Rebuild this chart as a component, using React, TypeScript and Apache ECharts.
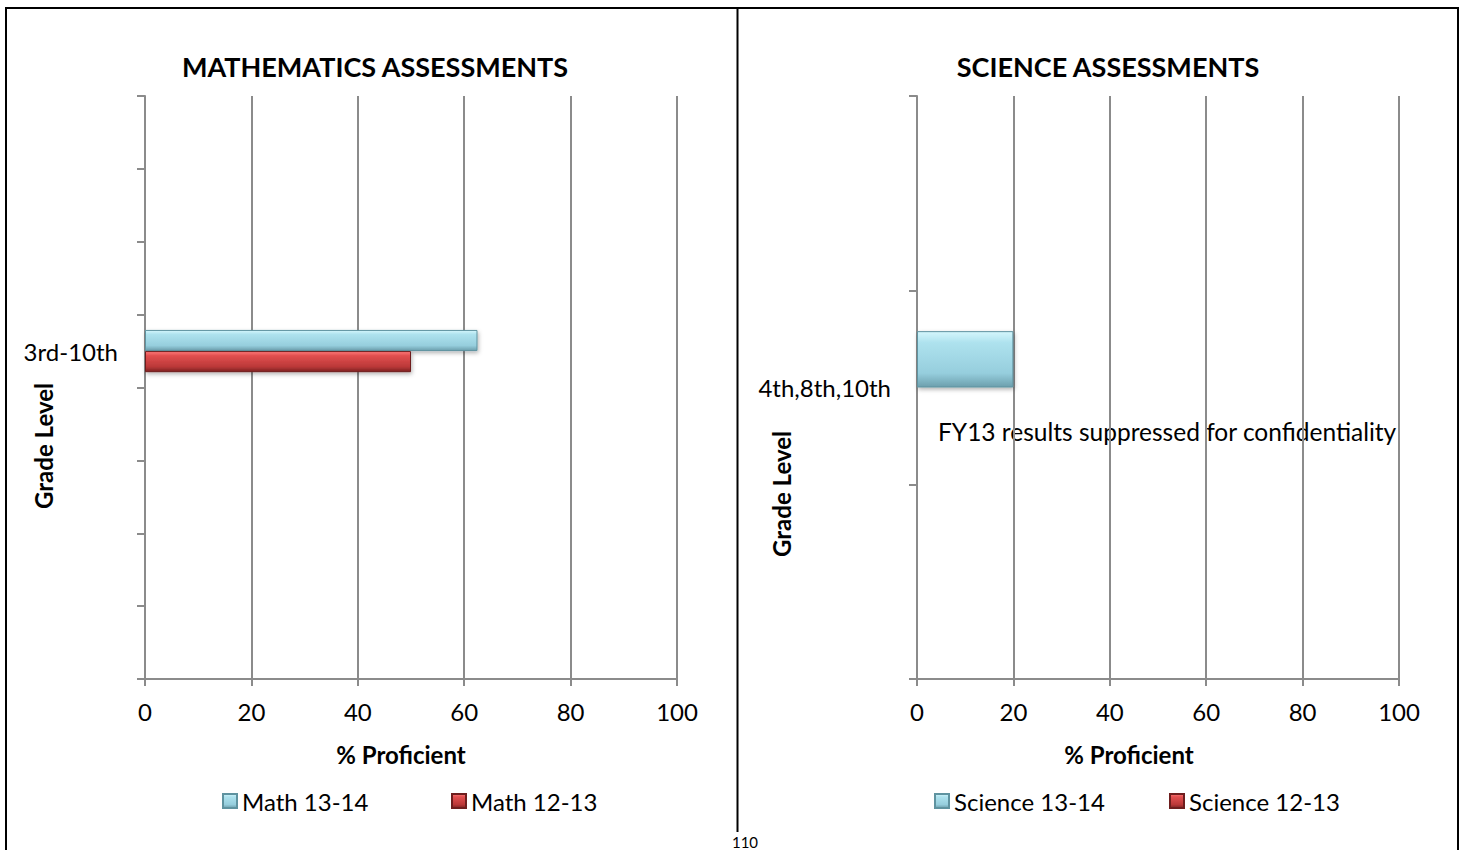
import React, { useEffect, useRef } from "react";
import * as echarts from "echarts";

const mathCategories = ["", " ", "  ", "   ", "3rd-10th", "    ", "     ", "      "];
const math1314 = [null, null, null, null, 62.5, null, null, null];
const math1213 = [null, null, null, null, 50, null, null, null];

const sciCategories = ["", "4th,8th,10th", " "];
const sci1314 = [null, 20, null];
const sci1213 = [null, null, null];

const xTicks = [0, 20, 40, 60, 80, 100];

const FONT = "Lato, 'Open Sans', sans-serif";
const GRID_COLOR = "#8b8b8b";

const blueGrad = () =>
  new echarts.graphic.LinearGradient(0, 0, 0, 1, [
    { offset: 0, color: "#d4f6fc" },
    { offset: 0.2, color: "#aee2ee" },
    { offset: 0.75, color: "#96cedd" },
    { offset: 1, color: "#6c9fad" },
  ]);
const redGrad = () =>
  new echarts.graphic.LinearGradient(0, 0, 0, 1, [
    { offset: 0, color: "#ff7a7a" },
    { offset: 0.2, color: "#e25050" },
    { offset: 0.75, color: "#bb3838" },
    { offset: 1, color: "#7e2323" },
  ]);

export default function App() {
  const ref = useRef<HTMLDivElement>(null);
  useEffect(() => {
    if (!ref.current) return;
    const chart = echarts.init(ref.current, null, { renderer: "svg" });

    const xAxisBase = (gridIndex: number) => ({
      type: "value",
      gridIndex,
      min: xTicks[0],
      max: xTicks[xTicks.length - 1],
      interval: xTicks[1] - xTicks[0],
      axisLine: { show: true, lineStyle: { color: GRID_COLOR, width: 2 } },
      axisTick: { show: true, length: 7, lineStyle: { color: GRID_COLOR, width: 2 } },
      splitLine: { show: true, lineStyle: { color: GRID_COLOR, width: 2 } },
      axisLabel: { fontFamily: FONT, fontSize: 24, color: "#000", margin: 20 },
    });
    const yAxisBase = (gridIndex: number, data: string[], margin: number) => ({
      type: "category",
      gridIndex,
      data,
      axisLine: { show: true, lineStyle: { color: GRID_COLOR, width: 2 } },
      axisTick: { show: true, length: 8, inside: false, lineStyle: { color: GRID_COLOR, width: 2 } },
      axisLabel: { fontFamily: FONT, fontSize: 24, color: "#000", margin, interval: 0 },
      splitLine: { show: false },
    });

    const barCommon = {
      type: "bar",
      barGap: "0%",
      barCategoryGap: "42%",
      itemStyle: {
        shadowBlur: 4,
        shadowOffsetX: 1,
        shadowOffsetY: 2,
        shadowColor: "rgba(0,0,0,0.3)",
      },
    };

    const legendAt = (name: string, left: number) => ({
      data: [name],
      left,
      top: 789,
      padding: 0,
      itemWidth: 14,
      itemHeight: 14,
      icon: "rect",
      textStyle: { fontFamily: FONT, fontSize: 24, color: "#000", lineHeight: 24 },
    });

    const boldText = (text: string, x: number, y: number, size: number, rot = 0) => ({
      type: "text",
      x,
      y,
      rotation: rot,
      style: {
        text,
        fontFamily: FONT,
        fontWeight: "bold",
        fontSize: size,
        fill: "#000",
        align: "center",
        verticalAlign: "middle",
      },
    });

    chart.setOption({
      animation: false,
      backgroundColor: "#fff",
      grid: [
        { left: 145, top: 96, width: 532, height: 583, containLabel: false },
        { left: 917, top: 96, width: 482, height: 583, containLabel: false },
      ],
      xAxis: [xAxisBase(0), xAxisBase(1)],
      yAxis: [yAxisBase(0, mathCategories, 27), yAxisBase(1, sciCategories, 26)],
      legend: [
        legendAt("Math 13-14", 222),
        legendAt("Math 12-13", 451),
        legendAt("Science 13-14", 934),
        legendAt("Science 12-13", 1169),
      ],
      series: [
        {
          ...barCommon,
          name: "Math 13-14",
          xAxisIndex: 0,
          yAxisIndex: 0,
          data: math1314,
          itemStyle: { ...barCommon.itemStyle, color: blueGrad(), borderColor: "#5f93a0", borderWidth: 1 },
        },
        {
          ...barCommon,
          name: "Math 12-13",
          xAxisIndex: 0,
          yAxisIndex: 0,
          data: math1213,
          itemStyle: { ...barCommon.itemStyle, color: redGrad(), borderColor: "#6e1e1e", borderWidth: 1 },
        },
        {
          ...barCommon,
          name: "Science 13-14",
          xAxisIndex: 1,
          yAxisIndex: 1,
          data: sci1314,
          itemStyle: { ...barCommon.itemStyle, color: blueGrad(), borderColor: "#5f93a0", borderWidth: 1 },
        },
        {
          ...barCommon,
          name: "Science 12-13",
          xAxisIndex: 1,
          yAxisIndex: 1,
          data: sci1213,
          itemStyle: { ...barCommon.itemStyle, color: redGrad(), borderColor: "#6e1e1e", borderWidth: 1 },
        },
      ],
      graphic: [
        { type: "line", shape: { x1: 5, y1: 8, x2: 1459, y2: 8 }, style: { stroke: "#000", lineWidth: 2 } },
        { type: "line", shape: { x1: 6, y1: 7, x2: 6, y2: 850 }, style: { stroke: "#000", lineWidth: 2 } },
        { type: "line", shape: { x1: 1458, y1: 7, x2: 1458, y2: 850 }, style: { stroke: "#000", lineWidth: 2 } },
        { type: "line", shape: { x1: 737.5, y1: 8, x2: 737.5, y2: 832 }, style: { stroke: "#000", lineWidth: 2 } },
        boldText("MATHEMATICS ASSESSMENTS", 375, 66, 27),
        boldText("SCIENCE ASSESSMENTS", 1108, 66, 27),
        boldText("Grade Level", 43, 446, 24, Math.PI / 2),
        boldText("Grade Level", 781, 494, 24, Math.PI / 2),
        boldText("% Proficient", 401, 754, 24),
        boldText("% Proficient", 1129, 754, 24),
        {
          type: "text",
          x: 938,
          y: 431,
          style: {
            text: "FY13 results suppressed for confidentiality",
            fontFamily: FONT,
            fontSize: 24.5,
            fill: "#000",
            align: "left",
            verticalAlign: "middle",
          },
        },
        {
          type: "text",
          x: 745,
          y: 849,
          style: {
            text: "110",
            fontFamily: FONT,
            fontSize: 15,
            fill: "#000",
            align: "center",
            verticalAlign: "bottom",
          },
        },
      ],
    });
    return () => chart.dispose();
  }, []);
  return (
    <div
      ref={ref}
      style={{ position: "fixed", left: 0, top: 0, width: 1465, height: 850, background: "#fff" }}
    />
  );
}
